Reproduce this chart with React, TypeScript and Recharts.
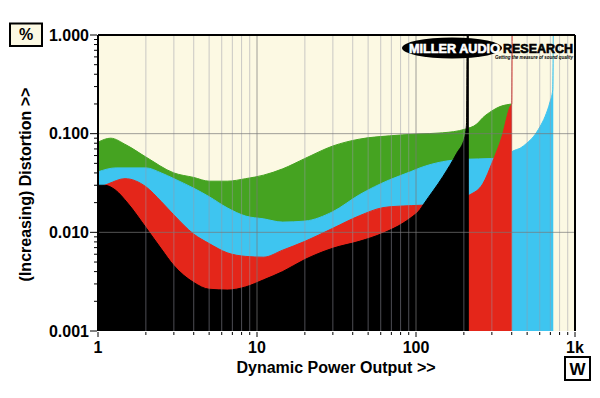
import React from "react";
import { Area, AreaChart, CartesianGrid, ReferenceLine, XAxis, YAxis } from "recharts";

// [power W, distortion %]
const green: [number, number][] = [
  [1, 0.082], [1.2, 0.09], [1.5, 0.077], [2, 0.058], [3, 0.04], [4, 0.036], [5, 0.033],
  [6.5, 0.033], [8.5, 0.035], [11, 0.038], [14.5, 0.044], [20, 0.056], [30, 0.075],
  [44, 0.088], [68, 0.095], [100, 0.099], [147, 0.102], [203, 0.111], [241, 0.125],
  [263, 0.145], [300, 0.17], [337, 0.188], [370, 0.196], [400, 0.2],
];

const cyan: [number, number][] = [
  [1, 0.041], [1.3, 0.045], [2, 0.045], [2.5, 0.04], [3, 0.035], [4, 0.028], [5, 0.023],
  [6.5, 0.0177], [8.5, 0.0146], [11, 0.0137], [14.5, 0.0127], [20, 0.013], [30, 0.0162],
  [44, 0.024], [68, 0.034], [92, 0.041], [106, 0.045], [147, 0.052], [203, 0.055],
  [300, 0.056], [370, 0.059], [409, 0.067], [451, 0.071], [497, 0.08], [547, 0.093],
  [603, 0.118], [648, 0.149], [697, 0.211], [724, 0.277], [730, 1],
];

const red: [number, number][] = [
  [1, 0.028], [1.16, 0.031], [1.48, 0.035], [2, 0.029], [2.5, 0.0205], [3, 0.015],
  [4, 0.0096], [5, 0.0077], [6.5, 0.0062], [8.5, 0.0057], [11, 0.0056], [14.5, 0.0066],
  [20, 0.0081], [30, 0.011], [44, 0.0147], [62, 0.0178], [83, 0.0185], [106, 0.0188],
  [150, 0.02], [218, 0.024], [263, 0.031], [303, 0.052], [347, 0.093], [391, 0.188],
  [400, 0.2], [402, 1],
];

const black: [number, number][] = [
  [1, 0.03], [1.1, 0.03], [1.28, 0.027], [1.54, 0.0197], [2, 0.0112], [2.5, 0.0068],
  [3, 0.0046], [4, 0.0031], [5, 0.00265], [6.5, 0.0026], [8.5, 0.0028], [11, 0.0033],
  [14.5, 0.004], [20, 0.0053], [30, 0.0069], [44, 0.0081], [62, 0.0098], [83, 0.0124],
  [92, 0.0139], [106, 0.017], [111, 0.019], [148, 0.037], [180, 0.063], [203, 0.093],
  [208, 0.13], [210, 1], [215, 1],
];

const xTicks = [
  1, 2, 3, 4, 5, 6, 7, 8, 9, 10, 20, 30, 40, 50, 60, 70, 80, 90, 100,
  200, 300, 400, 500, 600, 700, 800, 900, 1000,
];
const xLabels: Record<number, string> = { 1: "1", 10: "10", 100: "100", 1000: "1k" };

const yTicks = [
  0.001, 0.002, 0.003, 0.004, 0.005, 0.006, 0.007, 0.008, 0.009,
  0.01, 0.02, 0.03, 0.04, 0.05, 0.06, 0.07, 0.08, 0.09,
  0.1, 0.2, 0.3, 0.4, 0.5, 0.6, 0.7, 0.8, 0.9, 1,
];
const yLabels: Record<number, string> = { 0.001: "0.001", 0.01: "0.010", 0.1: "0.100", 1: "1.000" };

const series = [
  { key: "green", points: green, color: "#45a321" },
  { key: "cyan", points: cyan, color: "#3ec5f0" },
  { key: "red", points: red, color: "#e4261a" },
  { key: "black", points: black, color: "#000000" },
];

const allW = Array.from(new Set(series.flatMap((s) => s.points.map((p) => p[0])))).sort((a, b) => a - b);
const rows = allW.map((w) => {
  const row: Record<string, number> = { w };
  series.forEach((s) => {
    const hit = s.points.find((p) => p[0] === w);
    if (hit) row[s.key] = hit[1];
  });
  return row;
});

const FONT = "'Liberation Sans', Arial, sans-serif";
const CREAM = "#fcf9e3";

const XTick = ({ x, y, payload }: any) => {
  const label = xLabels[payload.value];
  return (
    <g>
      <line x1={x} x2={x} y1={y + 1} y2={y + (label ? 6 : 4)} stroke="#000" />
      {label && (
        <text x={x} y={y + 22} textAnchor="middle" fontFamily={FONT} fontWeight="bold" fontSize={16} fill="#000">
          {label}
        </text>
      )}
    </g>
  );
};

const YTick = ({ x, y, payload }: any) => {
  const label = yLabels[payload.value];
  return (
    <g>
      <line x1={x - (label ? 8 : 4)} x2={x - 1} y1={y} y2={y} stroke="#000" />
      {label && (
        <text x={x - 9} y={y + 5.7} textAnchor="end" fontFamily={FONT} fontWeight="bold" fontSize={16} fill="#000">
          {label}
        </text>
      )}
    </g>
  );
};

export default function App() {
  return (
    <div style={{ position: "absolute", left: 0, top: 0, width: 600, height: 398, background: "#fff" }}>
      <AreaChart width={600} height={398} data={rows} margin={{ top: 35, right: 25, bottom: 0, left: 0 }}>
        <CartesianGrid fill={CREAM} stroke="none" horizontal={false} vertical={false} />
        <XAxis
          dataKey="w"
          type="number"
          scale="log"
          domain={[1, 1000]}
          allowDataOverflow
          ticks={xTicks}
          interval={0}
          tick={(p: any) => <XTick {...p} />}
          tickLine={false}
          axisLine={false}
          tickSize={0}
          tickMargin={0}
          height={67}
        />
        <YAxis
          type="number"
          scale="log"
          domain={[0.001, 1]}
          allowDataOverflow
          ticks={yTicks}
          interval={0}
          tick={(p: any) => <YTick {...p} />}
          tickLine={false}
          axisLine={{ stroke: "#000", strokeWidth: 2 }}
          tickSize={0}
          tickMargin={0}
          width={98}
        />
        {series.map((s) => (
          <Area
            key={s.key}
            type="monotone"
            dataKey={s.key}
            stroke={s.color}
            strokeWidth={1}
            fill={s.color}
            fillOpacity={1}
            baseValue={0.001}
            connectNulls
            dot={false}
            activeDot={false}
            isAnimationActive={false}
          />
        ))}
        {xTicks
          .filter((v) => v !== 1 && v !== 1000)
          .map((v) => (
            <ReferenceLine
              key={`gx${v}`}
              x={v}
              stroke={xLabels[v] ? "#777777" : "#9a9aa8"}
              strokeOpacity={xLabels[v] ? 0.7 : 0.5}
            />
          ))}
        {[0.01, 0.1].map((v) => (
          <ReferenceLine key={`gy${v}`} y={v} stroke="#777777" strokeOpacity={0.7} />
        ))}
        <ReferenceLine y={1} stroke="#000" strokeWidth={2} />
        <ReferenceLine x={1000} stroke="#000" strokeWidth={2} />
      </AreaChart>
      <svg
        width={600}
        height={398}
        style={{ position: "absolute", left: 0, top: 0, pointerEvents: "none" }}
        fontFamily={FONT}
      >
        <rect x={10} y={23.5} width={32} height={22.5} fill={CREAM} stroke="#000" strokeWidth={2} />
        <text x={26} y={40} textAnchor="middle" fontWeight="bold" fontSize={16}>%</text>
        <rect x={565} y={357} width={25} height={23} fill="#fff" stroke="#000" strokeWidth={2} />
        <text x={577.5} y={375} textAnchor="middle" fontWeight="bold" fontSize={17}>W</text>
        <text x={336} y={373} textAnchor="middle" fontWeight="bold" fontSize={16}>Dynamic Power Output &gt;&gt;</text>
        <text x={31} y={184.5} transform="rotate(-90 31 184.5)" textAnchor="middle" fontWeight="bold" fontSize={16}>
          (Increasing) Distortion &gt;&gt;
        </text>
        <ellipse cx={452} cy={48} rx={50} ry={10.5} fill="#000" />
        <text x={409} y={52.5} fontWeight="bold" fontSize={12.5} fill="#fff" stroke="#fff" strokeWidth={0.6} textLength={91} lengthAdjust="spacingAndGlyphs">
          MILLER AUDIO
        </text>
        <text x={503} y={52.5} fontWeight="bold" fontSize={12.5} fill="#000" stroke="#000" strokeWidth={0.6} textLength={70} lengthAdjust="spacingAndGlyphs">
          RESEARCH
        </text>
        <text x={495} y={59} fontWeight="bold" fontStyle="italic" fontSize={5} fill="#000" textLength={78} lengthAdjust="spacingAndGlyphs">
          Getting the measure of sound quality
        </text>
      </svg>
    </div>
  );
}
